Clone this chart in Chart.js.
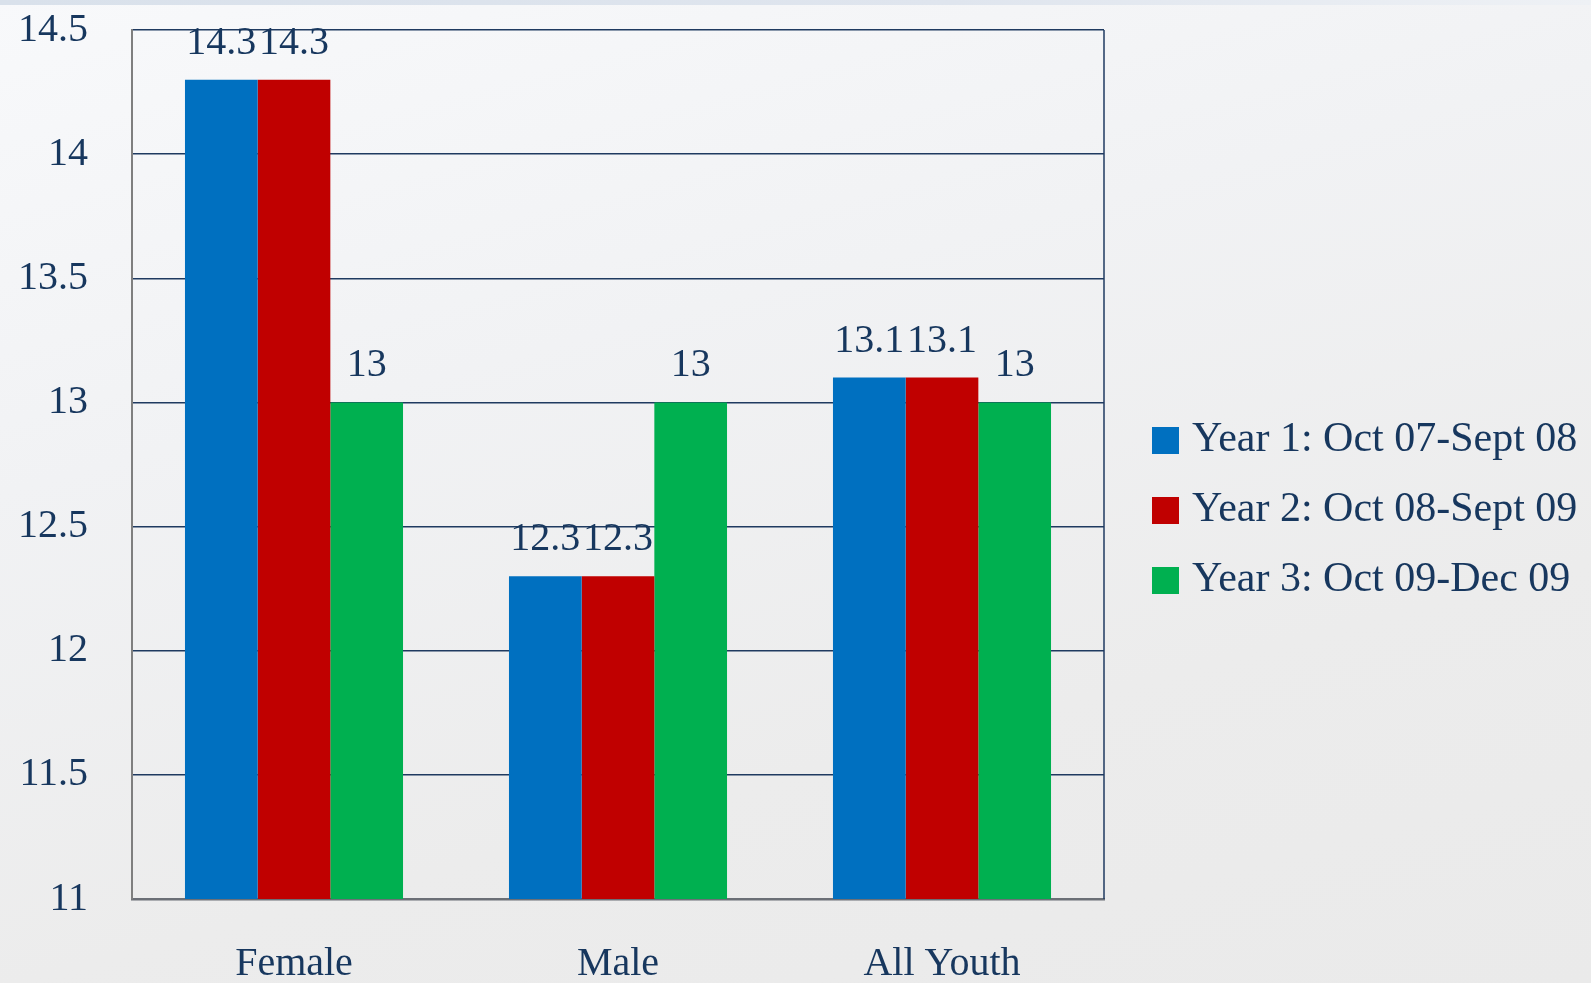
<!DOCTYPE html>
<html>
<head>
<meta charset="utf-8">
<script src="https://cdn.jsdelivr.net/npm/chart.js@4"></script>
<style>
  html, body { margin: 0; padding: 0; }
  body {
    width: 1591px; height: 983px; overflow: hidden; position: relative;
    background: linear-gradient(165deg, #f8f9fb 0%, #f1f2f4 35%, #ececec 70%, #eaeaea 100%);
    font-family: "Liberation Serif", "DejaVu Serif", serif;
  }
  #topband {
    position: absolute; left: 0; top: 0; width: 1591px; height: 5px;
    background: linear-gradient(90deg, #d9e1eb 0%, #dfe5ee 60%, #eef1f5 100%);
  }
  #wrap { position: absolute; left: 0; top: 0; width: 1591px; height: 983px; }
  #legend { position: absolute; left: 1152px; top: 402px; color: #17375e; }
  .item { display: flex; align-items: center; height: 70px; font-size: 42px; line-height: 1; white-space: nowrap; }
  .box { width: 27px; height: 27px; margin-right: 13px; margin-top: 6px; }
</style>
</head>
<body>
<div id="topband"></div>
<div id="wrap"><canvas id="myChart" width="1591" height="983"></canvas></div>
<div id="legend"></div>
<script>
const categories = ["Female", "Male", "All Youth"];
const seriesNames = ["Year 1: Oct 07-Sept 08", "Year 2: Oct 08-Sept 09", "Year 3: Oct 09-Dec 09"];
const year1 = [14.3, 12.3, 13.1];
const year2 = [14.3, 12.3, 13.1];
const year3 = [13, 13, 13];
const seriesColors = ["#0070c0", "#c00000", "#00b050"];

const yMin = 11;
const yMax = 14.5;
const yStep = 0.5;

const textColor = "#17375e";
const fontFamily = "'Liberation Serif', 'DejaVu Serif', serif";

// labels above each bar
const barLabels = {
  id: "barLabels",
  afterDatasetsDraw(chart) {
    const ctx = chart.ctx;
    ctx.save();
    ctx.font = "40px " + fontFamily;
    ctx.fillStyle = textColor;
    ctx.textAlign = "center";
    ctx.textBaseline = "alphabetic";
    chart.data.datasets.forEach((ds, i) => {
      chart.getDatasetMeta(i).data.forEach((bar, j) => {
        ctx.fillText(String(ds.data[j]), bar.x, bar.y - 26);
      });
    });
    ctx.restore();
  }
};

// navy line on the right side of the plot
const rightBorder = {
  id: "rightBorder",
  beforeDatasetsDraw(chart) {
    const a = chart.chartArea;
    const ctx = chart.ctx;
    ctx.save();
    ctx.strokeStyle = "#1f3a60";
    ctx.lineWidth = 1.5;
    ctx.beginPath();
    ctx.moveTo(a.right, a.top);
    ctx.lineTo(a.right, a.bottom);
    ctx.stroke();
    ctx.restore();
  }
};

const ctx = document.getElementById("myChart");
const datasets = [year1, year2, year3].map((vals, i) => ({
  label: seriesNames[i],
  data: vals,
  backgroundColor: seriesColors[i],
  borderWidth: 0,
  categoryPercentage: 0.673,
  barPercentage: 1
}));

const chart = new Chart(ctx, {
  type: "bar",
  data: { labels: categories, datasets: datasets },
  options: {
    responsive: false,
    animation: false,
    layout: { padding: { top: 30, right: 487, left: 0, bottom: 0 } },
    plugins: {
      legend: { display: false },
      tooltip: { enabled: false }
    },
    scales: {
      x: {
        grid: { display: false, drawTicks: false },
        border: { display: true, color: "#6b6f76", width: 2.5 },
        ticks: { padding: 41, color: textColor, font: { family: fontFamily, size: 40 } },
        afterFit(scale) {
          scale.height = 84;
          scale.paddingLeft = 0;
          scale.paddingRight = 0;
        }
      },
      y: {
        min: yMin,
        max: yMax,
        grid: { color: "#1f3a60", lineWidth: 1.5, drawTicks: false },
        border: { display: true, color: "#7f7f7f", width: 2 },
        ticks: {
          stepSize: yStep,
          padding: 44,
          color: textColor,
          font: { family: fontFamily, size: 40 },
          callback: (v) => String(Math.round(v * 10) / 10)
        },
        afterFit(scale) {
          scale.width = 132;
          scale.paddingTop = 0;
          scale.paddingBottom = 0;
        }
      }
    }
  },
  plugins: [barLabels, rightBorder]
});

// legend built from the datasets
const legendEl = document.getElementById("legend");
chart.data.datasets.forEach(ds => {
  const row = document.createElement("div");
  row.className = "item";
  const box = document.createElement("span");
  box.className = "box";
  box.style.background = ds.backgroundColor;
  const txt = document.createElement("span");
  txt.textContent = ds.label;
  row.appendChild(box);
  row.appendChild(txt);
  legendEl.appendChild(row);
});
</script>
</body>
</html>
